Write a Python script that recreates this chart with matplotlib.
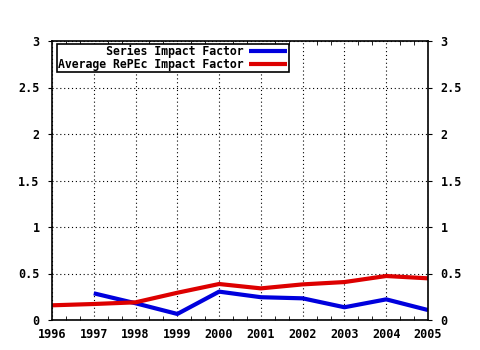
import numpy as np
import matplotlib.pyplot as plt
from matplotlib.ticker import MultipleLocator

# data
years = [1996, 1997, 1998, 1999, 2000, 2001, 2002, 2003, 2004, 2005]
series_years = [1997, 1998, 1999, 2000, 2001, 2002, 2003, 2004, 2005]
series_if = [0.287, 0.18, 0.065, 0.305, 0.245, 0.233, 0.137, 0.222, 0.107]
repec_if = [0.158, 0.172, 0.19, 0.293, 0.387, 0.34, 0.383, 0.408, 0.473, 0.448]

labels = ["Series Impact Factor", "Average RePEc Impact Factor"]
# monospace font: pad to right-align the legend labels
n = max(len(s) for s in labels)
labels = [s.rjust(n) for s in labels]

plt.rcParams["font.family"] = "DejaVu Sans Mono"
plt.rcParams["font.weight"] = "bold"

fig = plt.figure(figsize=(4.8, 3.5), dpi=100)
ax = fig.add_axes([52/480, 30/350, 376/480, 279/350])

ax.plot(series_years, series_if, color="#0000dd", lw=3,
        label=labels[0], solid_capstyle="butt")
ax.plot(years, repec_if, color="#dd0000", lw=3,
        label=labels[1], solid_capstyle="butt")

ax.set_xlim(1996, 2005)
ax.set_ylim(0, 3)
ax.xaxis.set_major_locator(MultipleLocator(1))
ax.xaxis.set_minor_locator(MultipleLocator(1/3))
ax.set_yticks([0, 0.5, 1, 1.5, 2, 2.5, 3])
ax.set_yticklabels(["0", "0.5", "1", "1.5", "2", "2.5", "3"])

ax.grid(True, which="major", color="black", linestyle=(0, (1, 2.5)), lw=0.8)

ax.tick_params(axis="x", which="both", direction="in", top=True,
               labelsize=8.5, pad=6)
ax.tick_params(axis="x", which="major", length=0)
ax.tick_params(axis="x", which="minor", length=3)
ax.tick_params(axis="y", which="major", direction="out", right=True,
               labelright=True, length=3, labelsize=8.5, pad=6)

for s in ax.spines.values():
    s.set_linewidth(1.2)

leg = ax.legend(
    loc="upper left",
    bbox_to_anchor=(0.013, 0.99),
    markerfirst=False,
    fontsize=8.3,
    handlelength=3.3,
    handletextpad=0.5,
    borderpad=0.1,
    labelspacing=0.0,
    fancybox=False,
    framealpha=1,
    edgecolor="black",
    borderaxespad=0
)
leg.get_frame().set_linewidth(1.2)

fig.savefig("out.png", dpi=100)
